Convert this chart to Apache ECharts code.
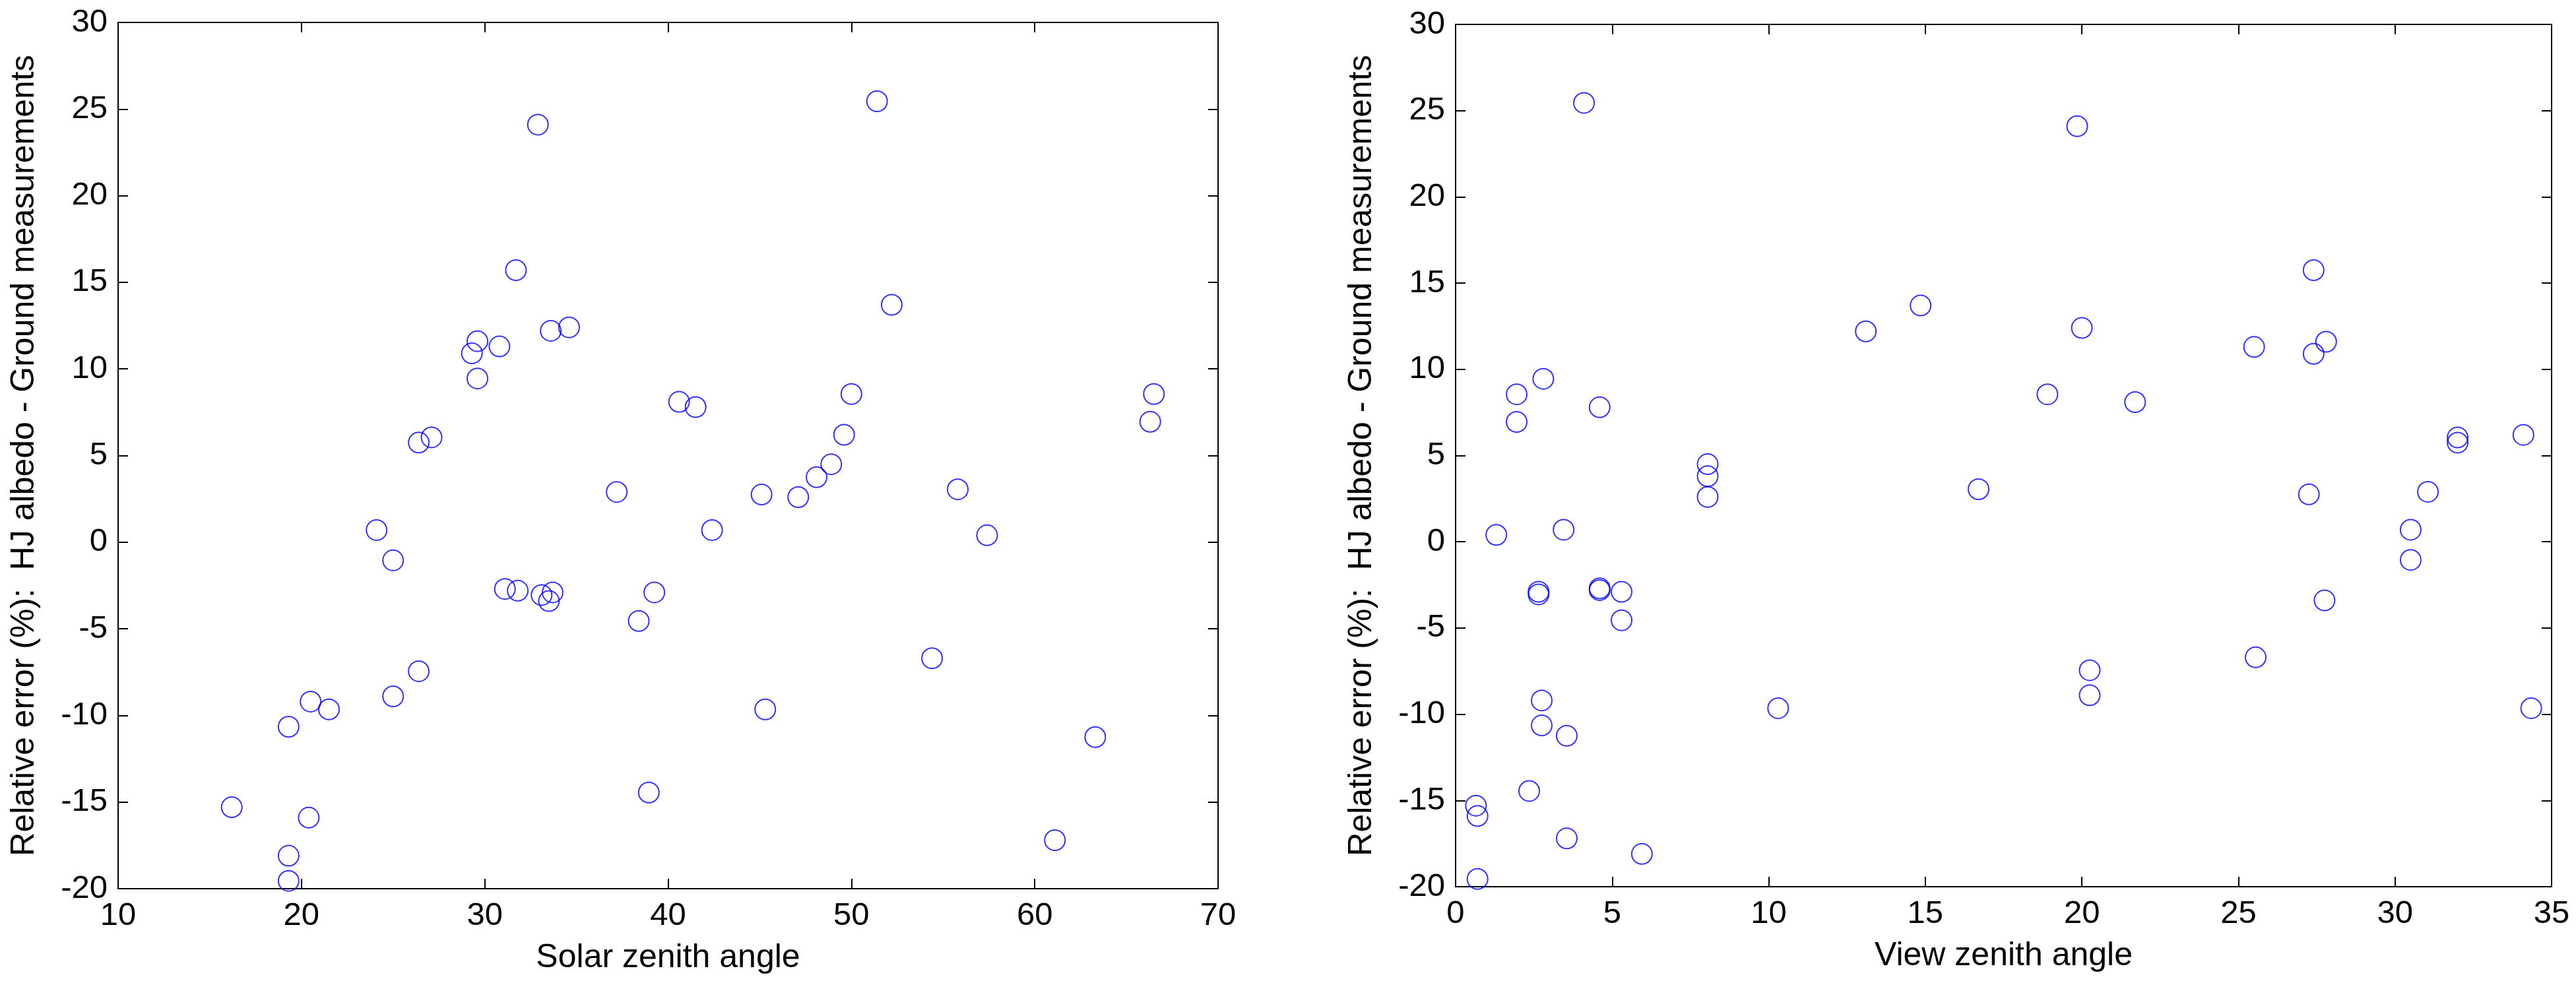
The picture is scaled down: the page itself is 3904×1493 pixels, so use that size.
<!DOCTYPE html>
<html>
<head>
<meta charset="utf-8">
<script src="https://cdn.jsdelivr.net/npm/echarts@6/dist/echarts.min.js"></script>
<style>
  html, body { margin: 0; padding: 0; background: #fff; }
  #chart { width: 3904px; height: 1493px; }
</style>
</head>
<body>
<div id="chart"></div>
<script>
// left panel: relative error vs solar zenith angle
const solarAngle = [16.2, 19.3, 19.3, 19.3, 20.4, 20.5, 21.5, 24.1, 25.0, 25.0,
  26.4, 26.4, 27.1, 29.3, 29.6, 29.6, 30.8, 31.1, 31.7, 31.8,
  32.9, 33.1, 33.5, 33.6, 33.7, 34.6, 37.2, 38.4, 38.95, 39.25,
  40.6, 41.5, 42.4, 45.1, 45.3, 47.1, 48.1, 48.9, 49.6, 50.0,
  51.4, 52.2, 54.4, 55.8, 57.4, 61.1, 63.3, 66.3, 66.5]
const solarError = [-15.3, -10.65, -18.1, -19.55, -15.9, -9.2, -9.65, 0.7, -1.05, -8.9,
  -7.45, 5.75, 6.05, 10.9, 11.6, 9.45, 11.3, -2.7, 15.7, -2.8,
  24.1, -3.05, -3.4, 12.2, -2.9, 12.4, 2.9, -4.55, -14.45, -2.9,
  8.1, 7.8, 0.7, 2.75, -9.65, 2.6, 3.75, 4.5, 6.2, 8.55,
  25.45, 13.7, -6.7, 3.05, 0.4, -17.2, -11.25, 6.95, 8.55]

// right panel: relative error vs view zenith angle
const viewAngle = [0.65, 0.7, 0.7, 1.3, 1.95, 1.95, 2.35, 2.65, 2.65, 2.75,
  2.75, 2.8, 3.45, 3.55, 3.55, 4.1, 4.6, 4.6, 4.6, 5.3,
  5.3, 5.95, 8.05, 8.05, 8.05, 10.3, 13.1, 14.85, 16.7, 18.9,
  19.85, 20.0, 20.25, 20.25, 21.7, 25.5, 25.55, 27.25, 27.4, 27.4,
  27.75, 27.8, 30.5, 30.5, 31.05, 32.0, 32.0, 34.1, 34.35]
const viewError = [-15.3, -15.9, -19.55, 0.4, 8.55, 6.95, -14.45, -2.9, -3.05, -9.2,
  -10.65, 9.45, 0.7, -11.25, -17.2, 25.45, 7.8, -2.7, -2.8, -2.9,
  -4.55, -18.1, 4.5, 3.8, 2.6, -9.65, 12.2, 13.7, 3.05, 8.55,
  24.1, 12.4, -7.45, -8.9, 8.1, 11.3, -6.7, 2.75, 15.75, 10.9,
  -3.4, 11.6, 0.7, -1.05, 2.9, 6.05, 5.75, 6.2, -9.65]

const solarTicks = { min: 10, max: 70, interval: 10 }
const viewTicks = { min: 0, max: 35, interval: 5 }
const errTicks = { min: -20, max: 30, interval: 5 }

const xNames = ['Solar zenith angle', 'View zenith angle']
const yName = 'Relative error (%):  HJ albedo - Ground measurements'

const font = 'Liberation Sans, Arial, Helvetica, sans-serif'
const ink = '#000'

function pairs(xs, ys) {
  return xs.map((x, i) => [x, ys[i]])
}

// matlab-style box: ticks pointing in on all four sides, labels only bottom/left
function axis(kind, gridIndex, ticks, position, withLabels, name) {
  const a = {
    type: 'value',
    gridIndex,
    position,
    min: ticks.min,
    max: ticks.max,
    interval: ticks.interval,
    splitLine: { show: false },
    axisLine: { show: true, onZero: false, lineStyle: { color: ink, width: 2 } },
    axisTick: { show: true, inside: true, length: 15, lineStyle: { color: ink, width: 2 } },
    axisLabel: {
      show: withLabels,
      color: ink,
      fontSize: 49,
      fontFamily: font,
      margin: kind === 'x' ? 17 : 16
    }
  }
  if (name) {
    a.name = name
    a.nameLocation = 'middle'
    a.nameGap = kind === 'x' ? 80 : 117
    a.nameTextStyle = { color: ink, fontSize: 50, fontFamily: font }
  }
  return a
}

const chart = echarts.init(document.getElementById('chart'), null, { renderer: 'canvas' })

const marker = {
  type: 'scatter',
  symbol: 'circle',
  symbolSize: 31,
  itemStyle: { color: 'transparent', borderColor: '#0000ff', borderWidth: 2 }
}

chart.setOption({
  animation: false,
  backgroundColor: '#fff',
  grid: [
    { left: 179, right: 2058, top: 34, bottom: 146 },
    { left: 2206, right: 37, top: 37, bottom: 149 }
  ],
  xAxis: [
    axis('x', 0, solarTicks, 'bottom', true, xNames[0]),
    axis('x', 0, solarTicks, 'top', false),
    axis('x', 1, viewTicks, 'bottom', true, xNames[1]),
    axis('x', 1, viewTicks, 'top', false)
  ],
  yAxis: [
    axis('y', 0, errTicks, 'left', true, yName),
    axis('y', 0, errTicks, 'right', false),
    axis('y', 1, errTicks, 'left', true, yName),
    axis('y', 1, errTicks, 'right', false)
  ],
  series: [
    Object.assign({}, marker, {
      xAxisIndex: 0,
      yAxisIndex: 0,
      data: pairs(solarAngle, solarError)
    }),
    Object.assign({}, marker, {
      xAxisIndex: 2,
      yAxisIndex: 2,
      data: pairs(viewAngle, viewError)
    })
  ]
})
</script>
</body>
</html>
